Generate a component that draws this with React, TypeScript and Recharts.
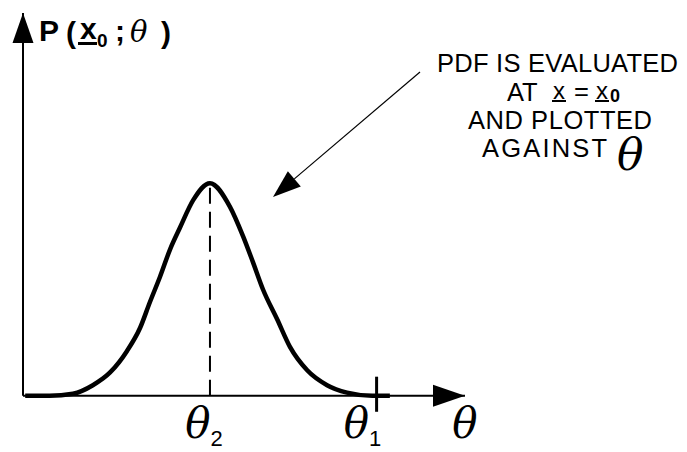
import {
  LineChart,
  Line,
  XAxis,
  YAxis,
  ReferenceLine,
  ReferenceDot,
  Customized,
} from "recharts";

// likelihood curve: pdf evaluated at x = x0, as a function of theta
const theta = [0.05, 0.6, 1.13, 1.58, 1.97, 2.35, 2.65, 2.87, 3.1, 3.33, 3.55, 3.85, 4.23, 4.68, 4.98, 5.2, 5.43, 5.75, 6.04, 6.43, 6.88, 7.33, 7.9, 8.3];
const pdf = [0, 0, 0.01, 0.05, 0.11, 0.21, 0.32, 0.44, 0.56, 0.69, 0.79, 0.92, 1.0, 0.89, 0.75, 0.63, 0.5, 0.36, 0.23, 0.12, 0.05, 0.015, 0, 0];

const THETA_2 = 4.23; // peak
const THETA_1 = 8.0;
const PEAK = 1.0;

const X_MAX = 10;
const Y_MIN = -0.25;
const Y_MAX = 1.8;

const noteLines = ["PDF IS EVALUATED", "AT", "AND PLOTTED", "AGAINST"];

const data = theta.map((t, i) => ({ theta: t, pdf: pdf[i] }));

const SANS = "'Liberation Sans', Arial, sans-serif";
const GREEK = "'DejaVu Serif', serif";

const ThetaLabel = ({ cx, cy, sub, dx = 0 }: any) => (
  <text x={cx + dx} y={cy} textAnchor="middle">
    <tspan fontFamily={GREEK} fontStyle="italic" fontSize={42}>θ</tspan>
    {sub ? (
      <tspan fontFamily={SANS} fontSize={22} dy={8}>{sub}</tspan>
    ) : null}
  </text>
);

const RightArrow = ({ cx, cy }: any) => (
  <polygon points={`${cx},${cy} ${cx - 32},${cy - 11} ${cx - 32},${cy + 11}`} fill="#000" />
);

const UpArrow = ({ cx, cy }: any) => (
  <polygon points={`${cx},${cy} ${cx - 10.5},${cy + 30} ${cx + 10.5},${cy + 30}`} fill="#000" />
);

function Annotations() {
  // pointer arrow from the note towards the curve
  const from = { x: 420, y: 72 };
  const tip = { x: 273, y: 197 };
  const dx = tip.x - from.x;
  const dy = tip.y - from.y;
  const len = Math.sqrt(dx * dx + dy * dy);
  const ux = dx / len;
  const uy = dy / len;
  const bx = tip.x - 28 * ux;
  const by = tip.y - 28 * uy;
  const hw = 10;

  return (
    <g>
      {/* y axis title */}
      <text fontFamily={SANS} fontWeight="bold" fontSize={30} fill="#000">
        <tspan x={39} y={41}>P</tspan>
        <tspan x={66} y={43}>(</tspan>
        <tspan x={80} y={39}>x</tspan>
        <tspan x={97} y={47} fontSize={19}>0</tspan>
        <tspan x={115} y={41}>;</tspan>
        <tspan x={130} y={42} fontFamily={GREEK} fontStyle="italic" fontWeight="normal" fontSize={29}>θ</tspan>
        <tspan x={161} y={43}>)</tspan>
      </text>
      <rect x={78} y={42} width={19} height={3} fill="#000" />

      {/* note */}
      <g fontFamily={SANS} fontSize={25.5} fill="#000">
        <text x={437} y={71.5} textLength={241}>{noteLines[0]}</text>
        <text>
          <tspan x={507} y={101}>{noteLines[1]}</tspan>
          <tspan x={553} y={98.5} fontSize={24}>x</tspan>
          <tspan x={574} y={100}>=</tspan>
          <tspan x={596} y={98.5} fontSize={24}>x</tspan>
          <tspan x={610} y={102} fontSize={18} fontWeight="bold">0</tspan>
        </text>
        <rect x={552} y={100} width={14} height={2} />
        <rect x={595} y={100} width={14} height={2} />
        <text x={468} y={129} textLength={184}>{noteLines[2]}</text>
        <text x={482} y={157} textLength={125}>{noteLines[3]}</text>
        <text x={617} y={170} fontFamily={GREEK} fontStyle="italic" fontSize={44}>θ</text>
      </g>

      <line x1={from.x} y1={from.y} x2={bx} y2={by} stroke="#000" strokeWidth={1.2} />
      <polygon
        points={`${tip.x},${tip.y} ${bx - hw * uy},${by + hw * ux} ${bx + hw * uy},${by - hw * ux}`}
        fill="#000"
      />
    </g>
  );
}

export default function App() {
  return (
    <div style={{ position: "absolute", left: 0, top: 0, background: "#fff" }}>
      <LineChart
        width={687}
        height={452}
        data={data}
        margin={{ top: 13, right: 222, bottom: 3, left: 23 }}
      >
        <XAxis type="number" dataKey="theta" domain={[0, X_MAX]} hide />
        <YAxis type="number" domain={[Y_MIN, Y_MAX]} hide />

        {/* axes */}
        <ReferenceLine segment={[{ x: 0, y: 0 }, { x: X_MAX, y: 0 }]} stroke="#000" strokeWidth={2} />
        <ReferenceLine segment={[{ x: 0, y: 0 }, { x: 0, y: Y_MAX }]} stroke="#000" strokeWidth={2} />
        <ReferenceDot x={X_MAX} y={0} r={1} shape={RightArrow} />
        <ReferenceDot x={0} y={Y_MAX} r={1} shape={UpArrow} />

        {/* theta_2 marker and theta_1 tick */}
        <ReferenceLine
          segment={[{ x: THETA_2, y: 0 }, { x: THETA_2, y: PEAK }]}
          stroke="#000"
          strokeWidth={2}
          strokeDasharray="16 8"
        />
        <ReferenceLine
          segment={[{ x: THETA_1, y: -0.075 }, { x: THETA_1, y: 0.09 }]}
          stroke="#000"
          strokeWidth={3}
        />
        <ReferenceDot x={THETA_2} y={-0.2} r={1} shape={(p: any) => <ThetaLabel {...p} sub="2" dx={-6} />} />
        <ReferenceDot x={THETA_1} y={-0.2} r={1} shape={(p: any) => <ThetaLabel {...p} sub="1" dx={-14} />} />
        <ReferenceDot x={X_MAX} y={-0.2} r={1} shape={(p: any) => <ThetaLabel {...p} />} />

        <Line
          type="monotone"
          dataKey="pdf"
          stroke="#000"
          strokeWidth={4.5}
          dot={false}
          isAnimationActive={false}
        />

        <Customized component={<Annotations />} />
      </LineChart>
    </div>
  );
}
